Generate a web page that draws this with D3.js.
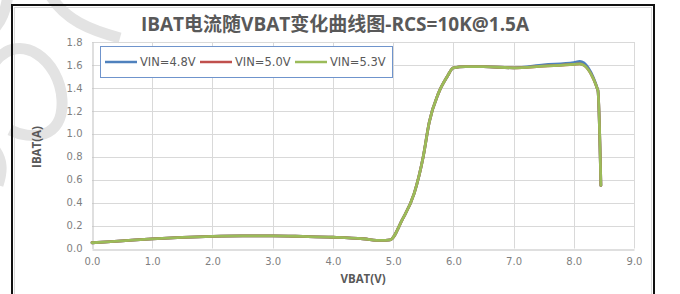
<!DOCTYPE html>
<html>
<head>
<meta charset="utf-8">
<script src="https://cdn.jsdelivr.net/npm/d3@7/dist/d3.min.js"></script>
<style>
  body { margin: 0; background: #fff; }
  svg { display: block; font-family: "Open Sans", "Noto Sans CJK SC", sans-serif; }
</style>
</head>
<body>
<svg id="chart" width="680" height="294"></svg>
<script>
// VBAT sample points (V)
const vbat = [0, 0.5, 1.0, 1.5, 2.0, 2.5, 3.0, 3.5, 4.0, 4.5, 4.8, 4.95, 5.15, 5.35, 5.5,
  5.6, 5.75, 5.9, 6.0, 6.2, 6.5, 7.0, 7.5, 8.0, 8.1, 8.4, 8.45];

// IBAT (A) for each VIN
const ibat48 = [0.05, 0.067, 0.084, 0.097, 0.106, 0.11, 0.11, 0.105, 0.098, 0.085, 0.07, 0.075,
  0.25, 0.48, 0.80, 1.10, 1.35, 1.50, 1.575, 1.585, 1.585, 1.575, 1.60, 1.62, 1.63, 1.38, 0.55];
const ibat50 = [0.05, 0.067, 0.084, 0.097, 0.106, 0.11, 0.11, 0.105, 0.098, 0.085, 0.07, 0.075,
  0.25, 0.48, 0.80, 1.10, 1.35, 1.50, 1.575, 1.585, 1.585, 1.575, 1.59, 1.605, 1.61, 1.38, 0.55];
const ibat53 = [0.05, 0.067, 0.084, 0.097, 0.106, 0.11, 0.11, 0.105, 0.098, 0.085, 0.07, 0.075,
  0.25, 0.48, 0.80, 1.10, 1.35, 1.50, 1.575, 1.585, 1.585, 1.575, 1.59, 1.605, 1.61, 1.38, 0.55];

const seriesNames = ["VIN=4.8V", "VIN=5.0V", "VIN=5.3V"];
const seriesColors = ["#4f81bd", "#c0504d", "#9bbb59"];
const xTicks = [0, 1, 2, 3, 4, 5, 6, 7, 8, 9];
const yTicks = [0, 0.2, 0.4, 0.6, 0.8, 1.0, 1.2, 1.4, 1.6, 1.8];

const titleText = "IBAT电流随VBAT变化曲线图-RCS=10K@1.5A";

const svg = d3.select("#chart");

// faint watermark strokes behind the chart
const wm = svg.append("g")
    .attr("fill", "none")
    .attr("stroke", "#e3e3e3")
    .attr("stroke-width", 11);
wm.append("path").attr("d", "M-5,62 C20,30 60,60 62,100 C64,140 30,140 10,130");
wm.append("path").attr("d", "M50,-5 C65,20 90,30 120,38");
wm.append("path").attr("d", "M8,-5 C6,10 2,20 -5,28");
wm.append("path").attr("d", "M-5,150 C2,160 3,170 -2,185");

// outer frame
svg.append("rect")
    .attr("x", 12).attr("y", 5)
    .attr("width", 642).attr("height", 300)
    .attr("fill", "none")
    .attr("stroke", "#111")
    .attr("stroke-width", 2);
svg.append("rect")
    .attr("x", 14.5).attr("y", 7.5)
    .attr("width", 637).attr("height", 300)
    .attr("fill", "none")
    .attr("stroke", "#d9d9d9");

const x = d3.scaleLinear().domain([0, 9]).range([92, 634]);
const y = d3.scaleLinear().domain([0, 1.8]).range([248.5, 42]);

// grid
svg.append("g")
    .attr("stroke", "#d9d9d9")
    .attr("stroke-width", 1)
  .call(g => g.selectAll("line.v")
    .data(xTicks.slice(1))
    .join("line")
      .attr("class", "v")
      .attr("x1", d => Math.round(x(d)) + 0.5).attr("x2", d => Math.round(x(d)) + 0.5)
      .attr("y1", y(1.8)).attr("y2", y(0)))
  .call(g => g.selectAll("line.h")
    .data(yTicks.slice(1))
    .join("line")
      .attr("class", "h")
      .attr("x1", x(0)).attr("x2", x(9))
      .attr("y1", d => Math.round(y(d)) + 0.5).attr("y2", d => Math.round(y(d)) + 0.5));

// axes
const xAxis = svg.append("g")
    .attr("transform", `translate(0,${Math.round(y(0)) + 0.5})`)
    .call(d3.axisBottom(x).tickValues(xTicks).tickFormat(d3.format(".1f")).tickSize(0).tickPadding(8));
const yAxis = svg.append("g")
    .attr("transform", `translate(${Math.round(x(0)) + 0.5},0)`)
    .call(d3.axisLeft(y).tickValues(yTicks).tickFormat(d3.format(".1f")).tickSize(0).tickPadding(10));
[xAxis, yAxis].forEach(a => {
  a.select(".domain").attr("stroke", "#bfbfbf");
  a.selectAll("text")
      .attr("fill", "#7f7f7f")
      .style("font-size", "10px")
      .style("font-family", "'DejaVu Sans', sans-serif");
});

// lines
const line = d3.line()
    .x(d => x(d[0]))
    .y(d => y(d[1]))
    .curve(d3.curveMonotoneX);

const allSeries = [ibat48, ibat50, ibat53].map((vals, i) => ({
  name: seriesNames[i],
  color: seriesColors[i],
  points: vbat.map((v, j) => [v, vals[j]])
}));

svg.append("g")
  .selectAll("path")
  .data(allSeries)
  .join("path")
    .attr("fill", "none")
    .attr("stroke", d => d.color)
    .attr("stroke-width", 2.8)
    .attr("stroke-linejoin", "round")
    .attr("stroke-linecap", "round")
    .attr("d", d => line(d.points));

// title
svg.append("text")
    .attr("x", 335).attr("y", 31)
    .attr("text-anchor", "middle")
    .attr("fill", "#595959")
    .style("font-size", "19px")
    .style("font-weight", "bold")
    .text(titleText);

// axis titles
svg.append("text")
    .attr("x", 363).attr("y", 283)
    .attr("text-anchor", "middle")
    .attr("fill", "#595959")
    .style("font-size", "11.5px")
    .style("font-weight", "bold")
    .text("VBAT(V)");
svg.append("text")
    .attr("transform", "translate(41,147) rotate(-90)")
    .attr("text-anchor", "middle")
    .attr("fill", "#595959")
    .style("font-size", "11.5px")
    .style("font-weight", "bold")
    .text("IBAT(A)");

// legend
const legend = svg.append("g");
legend.append("rect")
    .attr("x", 100.5).attr("y", 46.5)
    .attr("width", 292).attr("height", 31)
    .attr("fill", "#fff")
    .attr("stroke", "#6f94cc");
const legendX = [105, 200, 295];
const item = legend.selectAll("g.item")
  .data(allSeries)
  .join("g")
    .attr("class", "item")
    .attr("transform", (d, i) => `translate(${legendX[i]},62)`);
item.append("line")
    .attr("x1", 0).attr("x2", 32)
    .attr("stroke", d => d.color)
    .attr("stroke-width", 2.5);
item.append("text")
    .attr("x", 35).attr("y", 4)
    .attr("fill", "#595959")
    .style("font-size", "11.5px")
    .style("font-family", "'DejaVu Sans', sans-serif")
    .text(d => d.name);
</script>
</body>
</html>
